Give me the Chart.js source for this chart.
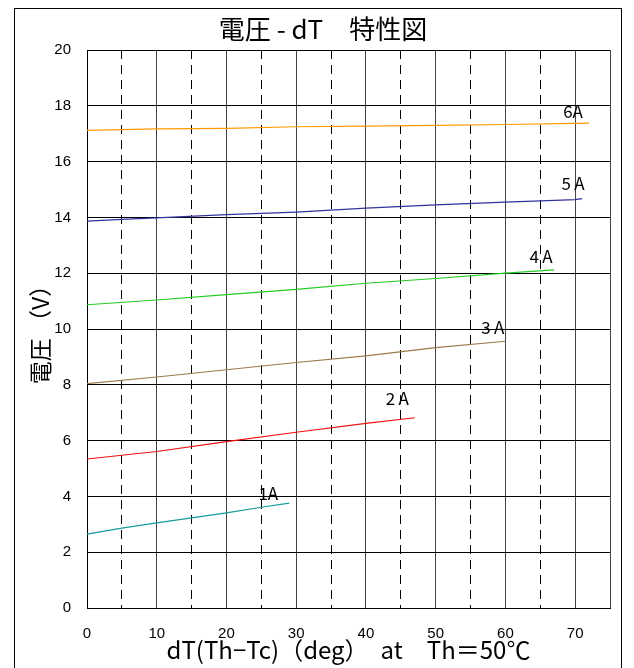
<!DOCTYPE html>
<html>
<head>
<meta charset="utf-8">
<script src="https://cdn.jsdelivr.net/npm/chart.js@4.4.0/dist/chart.umd.min.js"></script>
<style>
  body { margin: 0; background: #fff; }
  canvas { display: block; }
</style>
</head>
<body>
<canvas id="vdtChart" width="634" height="668"></canvas>
<script>
// 電圧 - dT data
const seriesNames = ['1A', '2\u2009A', '3\u2009A', '4\u2009A', '5\u2009A', '6A'];
const seriesColors = ['#169c9c', '#ee1111', '#9c7a4a', '#22cc22', '#33339c', '#ff9a00'];

const dT1A = [0, 5, 10, 20, 25, 29];
const volt1A = [2.65, 2.86, 3.05, 3.41, 3.61, 3.76];
const dT2A = [0, 10, 20, 30, 40, 47];
const volt2A = [5.34, 5.61, 5.96, 6.30, 6.62, 6.82];
const dT3A = [0, 10, 20, 30, 40, 50, 60];
const volt3A = [8.04, 8.28, 8.54, 8.80, 9.04, 9.33, 9.56];
const dT4A = [0, 10, 20, 30, 40, 50, 60, 67];
const volt4A = [10.87, 11.04, 11.23, 11.42, 11.64, 11.81, 12.00, 12.12];
const dT5A = [0, 5, 10, 20, 30, 40, 50, 60, 70, 71];
const volt5A = [13.87, 13.93, 13.98, 14.10, 14.19, 14.33, 14.45, 14.55, 14.64, 14.67];
const dT6A = [0, 10, 20, 30, 40, 50, 60, 70, 72];
const volt6A = [17.12, 17.17, 17.19, 17.25, 17.27, 17.30, 17.33, 17.37, 17.38];

// where the "nA" captions sit, in data units
const captionX = [26.0, 44.5, 58.2, 65.1, 69.7, 69.7];
const captionY = [4.09, 7.49, 10.07, 12.6, 15.2, 17.78];

const xSeries = [dT1A, dT2A, dT3A, dT4A, dT5A, dT6A];
const ySeries = [volt1A, volt2A, volt3A, volt4A, volt5A, volt6A];

const chartTitle = '電圧 - dT　特性図';
const tickFont = "'Liberation Sans Narrow', 'Liberation Sans', Arial, sans-serif";
const cjkFont = "'Noto Sans CJK JP', 'Noto Sans', sans-serif";

const datasets = seriesNames.map((name, i) => ({
  label: name,
  data: xSeries[i].map((x, j) => ({ x: x, y: ySeries[i][j] })),
  borderColor: seriesColors[i],
  borderWidth: 1.2,
  pointRadius: 0,
  fill: false,
  tension: 0
}));

// outer frame, title and series captions
const framePlugin = {
  id: 'frame',
  afterDraw(chart) {
    const ctx = chart.ctx;
    const xs = chart.scales.x, ys = chart.scales.y;
    ctx.save();
    ctx.strokeStyle = '#000';
    ctx.lineWidth = 1;
    ctx.strokeRect(14.5, 8.5, 607, 700);
    ctx.fillStyle = '#000';
    ctx.textAlign = 'center';
    ctx.textBaseline = 'middle';
    ctx.font = "26px " + cjkFont;
    ctx.fillText(chartTitle, 323, 29);
    ctx.font = "17px " + cjkFont;
    seriesNames.forEach((name, i) => {
      ctx.fillText(name, xs.getPixelForValue(captionX[i]), ys.getPixelForValue(captionY[i]));
    });
    ctx.restore();
  }
};

new Chart(document.getElementById('vdtChart'), {
  type: 'line',
  data: { datasets: datasets },
  plugins: [framePlugin],
  options: {
    responsive: false,
    animation: false,
    layout: { padding: { left: 0, right: 24, top: 50, bottom: 0 } },
    plugins: {
      legend: { display: false },
      tooltip: { enabled: false }
    },
    scales: {
      x: {
        type: 'linear',
        min: 0,
        max: 75,
        afterFit(scale) { scale.height = 60; },
        ticks: {
          stepSize: 5,
          padding: 17,
          color: '#000',
          font: { family: tickFont, size: 15 },
          callback: v => (v % 10 === 0 ? v : '')
        },
        grid: {
          drawTicks: false,
          color: ctx => (ctx.tick && ctx.tick.value % 10 === 5 && ctx.tick.value < 75 ? '#000' : '#444'),
          lineWidth: 1
        },
        border: {
          color: '#000',
          dash: ctx => (ctx.tick && ctx.tick.value % 10 === 5 && ctx.tick.value < 75 ? [9, 6] : [])
        },
        title: {
          display: true,
          text: 'dT(Th−Tc)（deg）　at　Th＝50℃',
          color: '#000',
          font: { family: cjkFont, size: 24, weight: 'normal' },
          padding: { top: 0, bottom: 4 }
        }
      },
      y: {
        min: 0,
        max: 20,
        afterFit(scale) { scale.width = 87; },
        ticks: {
          stepSize: 2,
          padding: 16,
          color: '#000',
          font: { family: tickFont, size: 15 }
        },
        grid: { drawTicks: false, color: '#000', lineWidth: 1 },
        border: { color: '#000' },
        title: {
          display: true,
          text: '電圧 （V）',
          color: '#000',
          font: { family: cjkFont, size: 23, weight: 'normal' },
          padding: { top: 26, bottom: 0 }
        }
      }
    }
  }
});
</script>
</body>
</html>
